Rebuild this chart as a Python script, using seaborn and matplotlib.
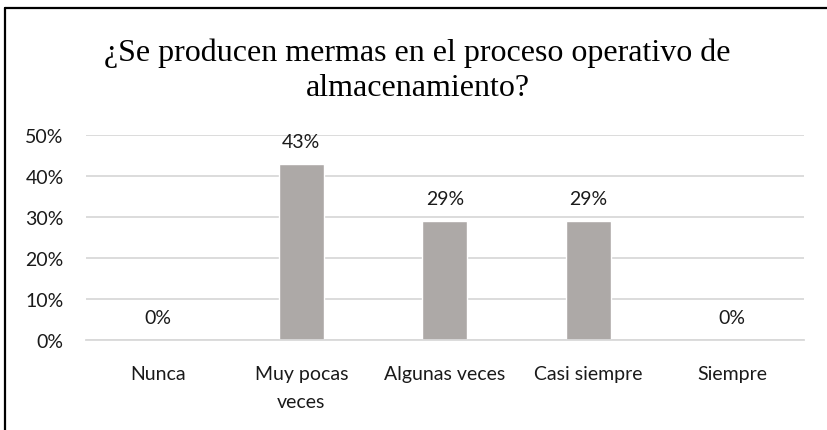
import matplotlib
matplotlib.use("Agg")
import matplotlib.pyplot as plt
import seaborn as sns
import pandas as pd
from matplotlib.lines import Line2D
from matplotlib.ticker import PercentFormatter

# Datos del gráfico
categorias = ["Nunca", "Muy pocas\nveces", "Algunas veces", "Casi siempre", "Siempre"]
porcentajes = [0.0, 0.43, 0.29, 0.29, 0.0]
etiquetas = ["0%", "43%", "29%", "29%", "0%"]
titulo = "¿Se producen mermas en el proceso operativo de\nalmacenamiento?"

df = pd.DataFrame({"categoria": categorias, "valor": porcentajes})

sns.set_theme(style="white")
plt.rcParams["font.family"] = ["Lato", "DejaVu Sans"]

fig = plt.figure(figsize=(8.27, 4.31), dpi=100)
ax = fig.add_axes([0.104, 0.2088, 0.868, 0.4757])

sns.barplot(data=df, x="categoria", y="valor", color="#ADA9A7", width=0.313,
            saturation=1, ax=ax)

ax.set_ylim(0, 0.5)
ax.set_yticks([0, 0.1, 0.2, 0.3, 0.4, 0.5])
ax.yaxis.set_major_formatter(PercentFormatter(1.0, decimals=0))
ax.yaxis.grid(True, color="#D9D9D9", linewidth=1.3)
ax.set_axisbelow(True)
for s in ["top", "right", "left"]:
    ax.spines[s].set_visible(False)
ax.spines["bottom"].set_color("#D9D9D9")
ax.spines["bottom"].set_linewidth(1.3)
ax.set_xlabel("")
ax.set_ylabel("")
ax.tick_params(axis="y", length=0, pad=16, labelsize=14, labelcolor="#1a1a1a")
ax.tick_params(axis="x", length=0, pad=18, labelsize=14, labelcolor="#1a1a1a")
for t in ax.get_xticklabels():
    t.set_linespacing(1.75)

for i, (v, lab) in enumerate(zip(porcentajes, etiquetas)):
    ax.annotate(lab, (i, v), xytext=(0, 16), textcoords="offset points",
                ha="center", va="center", fontsize=14, color="#1a1a1a")

fig.text(0.505, 0.836, titulo, ha="center", va="center", fontsize=23,
         family="Liberation Serif", linespacing=1.3, color="black")

# marco del gráfico (solo visibles izquierda y arriba)
fig.add_artist(Line2D([0.0055, 0.0055], [0, 0.979], transform=fig.transFigure,
                      color="black", linewidth=1.6))
fig.add_artist(Line2D([0.0055, 1.0], [0.979, 0.979], transform=fig.transFigure,
                      color="black", linewidth=1.6))

fig.savefig("out.png", dpi=100)
